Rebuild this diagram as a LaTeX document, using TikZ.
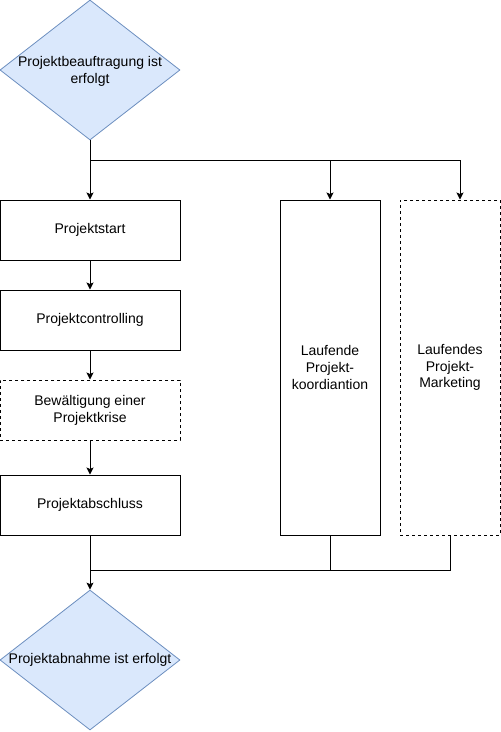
\documentclass[tikz,border=0pt]{standalone}
\usepackage{fontspec}
\setmainfont{Liberation Sans}
\usetikzlibrary{shapes.geometric,arrows.meta}
\definecolor{evfill}{HTML}{DAE8FC}
\definecolor{evline}{HTML}{6C8EBF}
\begin{document}
\begin{tikzpicture}[x=1pt,y=-1pt,
  every node/.style={font=\fontsize{14}{16.8}\selectfont,align=center},
  box/.style={draw,line width=1pt,minimum width=180pt,minimum height=60pt,inner sep=0pt},
  tallbox/.style={box,minimum width=100pt,minimum height=335pt},
  dashbox/.style={dash pattern=on 3pt off 3pt},
  event/.style={diamond,draw=evline,fill=evfill,line width=0.8pt,minimum width=180pt,minimum height=140pt,inner sep=0pt},
  link/.style={line width=1pt,-{Stealth[length=7pt,width=7pt,inset=1.5pt]}},
  mergeline/.style={line width=1pt}]
\useasboundingbox (0,0) rectangle (501,732);

\node[event] (auftrag) at (90,70) {};
\node (auftragtxt) at (90,71) {Projektbeauftragung ist\\erfolgt};

\node[box] (pstart) at (90,230) {Projektstart};
\node[box] (pcontrol) at (90,320) {Projektcontrolling};
\node[box,dashbox] (pkrise) at (90,410) {Bewältigung einer\\Projektkrise};
\node[box] (pende) at (90,505) {Projektabschluss};
\node[tallbox] (koord) at (330,367.5) {Laufende\\Projekt-\\koordiantion};
\node[tallbox,dashbox] (market) at (450,367.5) {Laufendes\\Projekt-\\Marketing};

\node[event] (abnahme) at (90,660) {};
\node (abnahmetxt) at (90,660) {Projektabnahme ist erfolgt};

\coordinate (split) at (90,160);
\coordinate (merge) at (90,570);

\draw[link] (auftrag.south) -- (pstart.north);
\draw[link] (split) -| (koord.north);
\draw[link] (split) -| ([xshift=10pt]market.north);
\draw[link] (pstart) -- (pcontrol);
\draw[link] (pcontrol) -- (pkrise);
\draw[link] (pkrise) -- (pende);
\draw[link] (pende.south) -- (abnahme.north);
\draw[mergeline] (koord.south) |- (merge);
\draw[mergeline] (market.south) |- (merge);

\end{tikzpicture}
\end{document}
